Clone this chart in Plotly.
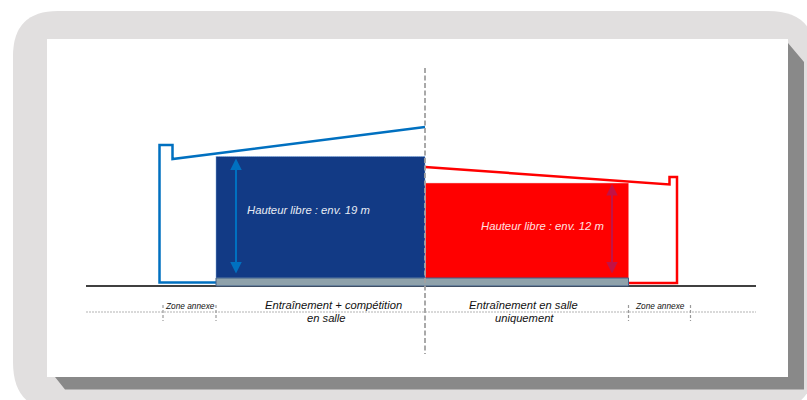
import plotly.graph_objects as go

W, H = 807, 400
FONT = "Liberation Sans"

# Building outlines and zones, in reference pixels
blue_hall_x = [216, 425, 425, 216, 216]
blue_hall_y = [156.5, 156.5, 278, 278, 156.5]
red_hall_x = [425.5, 628.5, 628.5, 425.5, 425.5]
red_hall_y = [183, 183, 278, 278, 183]
red_hall_top_x = [425.5, 628.5]
red_hall_top_y = [183, 183]
floor_x = [216, 628.5, 628.5, 216, 216]
floor_y = [278, 278, 286, 286, 278]
blue_outline_x = [216, 159.5, 159.5, 172.5, 172.5, 425]
blue_outline_y = [282.5, 282.5, 145, 145, 159, 127]
red_outline_x = [425, 669.5, 669.5, 677, 677, 628.5]
red_outline_y = [167, 184.5, 177, 177, 283, 283]
ground_x = [86, 756]
ground_y = [286, 286]
axis_line_x = [86, 756]
axis_line_y = [312, 312]
center_x = [425, 425]
center_y = [68, 354]
zone_ticks_x = [163, 216, 628.5, 690.5]
zone_tick_top, zone_tick_bottom = 305, 321

# Arrows: x, top, bottom, colour
arrow_x = [236, 612]
arrow_top = [158.5, 184]
arrow_bottom = [275, 275]
arrow_colors = ["#0070C0", "#C21245"]

# Labels
labels = ["Hauteur libre : env. 19 m", "Hauteur libre : env. 12 m",
          "Entraînement + compétition", "en salle",
          "Entraînement en salle", "uniquement",
          "Zone annexe", "Zone annexe"]
label_x = [308.5, 542.5, 333.5, 326, 523, 524, 189.5, 660]
label_y = [209.5, 225.5, 304.5, 318, 304.5, 318, 305.5, 305.5]
label_sizes = [11.3, 11.3, 11.2, 11.2, 11.2, 11.2, 8.3, 8.3]
label_colors = ["#E8ECF4", "#FFE0E0", "#111111", "#111111", "#111111", "#111111", "#111111", "#111111"]

# Frame
frame_path = ("M 13 56 Q 13 11 58 11 L 768 11 Q 812 11 815 50 L 815 360 "
              "Q 815 410 770 410 L 58 410 Q 13 410 13 362 Z")
shadow_x = [55, 788, 788, 804, 804, 65, 55]
shadow_y = [377, 377, 43, 62, 389.5, 389.5, 377]
sheet_x = [47, 788, 788, 47, 47]
sheet_y = [39, 39, 377, 377, 39]

fig = go.Figure()


def poly(x, y, fill, line=None, width=0, dash=None):
    fig.add_trace(go.Scatter(x=x, y=y, mode="lines", fill="toself", fillcolor=fill,
                             line=dict(color=line or fill, width=width, dash=dash),
                             hoverinfo="skip", showlegend=False))


def path(x, y, color, width, dash=None):
    fig.add_trace(go.Scatter(x=x, y=y, mode="lines",
                             line=dict(color=color, width=width, dash=dash),
                             hoverinfo="skip", showlegend=False))


poly(shadow_x, shadow_y, "#898989")
poly(sheet_x, sheet_y, "#FFFFFF")
poly(blue_hall_x, blue_hall_y, "#123A85", "#7FA8DC", 1, "1px,1px")
poly(red_hall_x, red_hall_y, "#FF0000")
path(red_hall_top_x, red_hall_top_y, "#F2C4C4", 1, "1px,1px")
path(blue_outline_x, blue_outline_y, "#0070C0", 2.5)
path(red_outline_x, red_outline_y, "#FF0000", 2.5)
path(ground_x, ground_y, "#000000", 1.5)
poly(floor_x, floor_y, "#8FA2AB", "#3F5F8A", 1)
path(axis_line_x, axis_line_y, "#B4B4B4", 1.2, "2px,1px")
for tx in zone_ticks_x:
    path([tx, tx], [zone_tick_top, zone_tick_bottom], "#9A9A9A", 1.2, "3px,2px")
path(center_x, center_y, "#A0A0A0", 1.8, "5px,2.5px")

annotations = []
for x, top, bottom, color in zip(arrow_x, arrow_top, arrow_bottom, arrow_colors):
    annotations.append(dict(x=x, y=top, ax=x, ay=bottom, xref="x", yref="y", axref="x", ayref="y",
                            text="", showarrow=True, arrowhead=2, arrowside="end+start",
                            arrowsize=1.15, arrowwidth=2, arrowcolor=color,
                            startarrowhead=2, startarrowsize=1.15))
for t, x, y, s, c in zip(labels, label_x, label_y, label_sizes, label_colors):
    annotations.append(dict(x=x, y=y, xref="x", yref="y", text=f"<i>{t}</i>", showarrow=False,
                            xanchor="center", yanchor="middle",
                            font=dict(family=FONT, size=s, color=c)))

fig.update_layout(
    width=W, height=H, margin=dict(l=0, r=0, t=0, b=0),
    paper_bgcolor="#FFFFFF", plot_bgcolor="rgba(0,0,0,0)",
    xaxis=dict(range=[0, W], visible=False, fixedrange=True),
    yaxis=dict(range=[H, 0], visible=False, fixedrange=True),
    shapes=[dict(type="path", path=frame_path, xref="x", yref="y",
                 fillcolor="#E1DFDF", line=dict(width=0), layer="below")],
    annotations=annotations,
    showlegend=False,
)

fig.write_html("out.html", config={"displayModeBar": False},
               post_script="document.body.style.margin='0';document.body.style.overflow='hidden';")
